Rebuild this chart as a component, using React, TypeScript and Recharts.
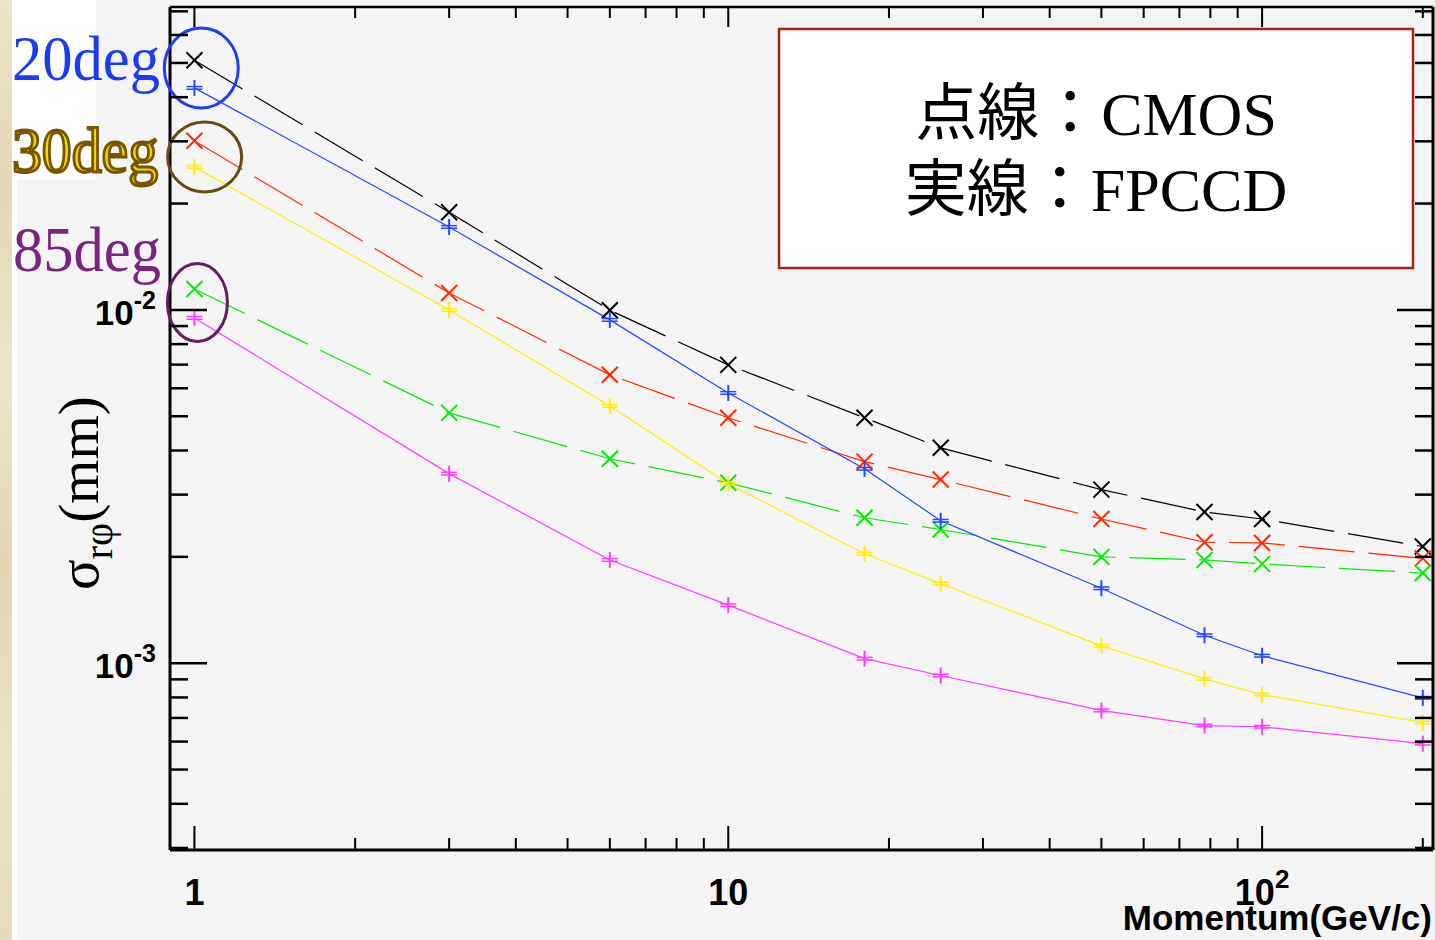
import React from 'react';
import { LineChart, Line, XAxis, YAxis, ReferenceDot } from 'recharts';

// ---- data ----
const momentum = [1, 3, 6, 10, 18, 25, 50, 78, 100, 200];
const cmos20 = [0.0509, 0.0189, 0.00998, 0.00699, 0.00495, 0.00407, 0.0031, 0.00268, 0.00256, 0.00214];
const fpccd20 = [0.0425, 0.01717, 0.00937, 0.00582, 0.00355, 0.00253, 0.00163, 0.0012, 0.00105, 0.000798];
const cmos30 = [0.0301, 0.01117, 0.00655, 0.00495, 0.00372, 0.00331, 0.00256, 0.0022, 0.00219, 0.00198];
const fpccd30 = [0.0254, 0.01, 0.00535, 0.00322, 0.00204, 0.00168, 0.00112, 0.000903, 0.000815, 0.000679];
const cmos85 = [0.01146, 0.00511, 0.00379, 0.00324, 0.00258, 0.00239, 0.002, 0.00196, 0.00191, 0.0018];
const fpccd85 = [0.00949, 0.00344, 0.00196, 0.00146, 0.00103, 0.000923, 0.000735, 0.000666, 0.000661, 0.000592];

const xTicks = [1, 2, 3, 4, 5, 6, 7, 8, 9, 10, 20, 30, 40, 50, 60, 70, 80, 90, 100, 200];
const yTicks = [
  0.0003, 0.0004, 0.0005, 0.0006, 0.0007, 0.0008, 0.0009, 0.001,
  0.002, 0.003, 0.004, 0.005, 0.006, 0.007, 0.008, 0.009, 0.01,
  0.02, 0.03, 0.04, 0.05, 0.06, 0.07,
];
const xDomain = [0.9, 209];
const yDomain = [0.000296, 0.072];

const legendLines = ['点線：CMOS', '実線：FPCCD'];
const angleLabels = ['20deg', '30deg', '85deg'];

type SeriesDef = { key: string; values: number[]; color: string; dashed: boolean; marker: 'x' | 'plus' };
const series: SeriesDef[] = [
  { key: 'cmos20', values: cmos20, color: '#000000', dashed: true, marker: 'x' },
  { key: 'cmos30', values: cmos30, color: '#ff2a00', dashed: true, marker: 'x' },
  { key: 'cmos85', values: cmos85, color: '#00ee00', dashed: true, marker: 'x' },
  { key: 'fpccd20', values: fpccd20, color: '#2448ff', dashed: false, marker: 'plus' },
  { key: 'fpccd30', values: fpccd30, color: '#ffee00', dashed: false, marker: 'plus' },
  { key: 'fpccd85', values: fpccd85, color: '#ff3cff', dashed: false, marker: 'plus' },
];

const data = momentum.map((m, i) => {
  const row: Record<string, number> = { momentum: m };
  series.forEach((s) => (row[s.key] = s.values[i]));
  return row;
});

// annotation ellipses (data coordinates)
const ellipses = [
  { x: 1.03, y: 0.0484, rx: 37, ry: 40, color: '#1a40f0' },
  { x: 1.045, y: 0.0271, rx: 37, ry: 35, color: '#6b4a10' },
  { x: 1.013, y: 0.0105, rx: 30, ry: 39, color: '#6a1a6a' },
];

const isMajor = (v: number) => Math.abs(Math.log10(v) - Math.round(Math.log10(v))) < 1e-6;
const SANS = 'Liberation Sans, Arial, Helvetica, sans-serif';
const SERIF = 'Liberation Serif, Times New Roman, serif';

const BottomTick = (props: any) => {
  const { x, y, payload } = props;
  const v = payload.value;
  const major = isMajor(v);
  return (
    <g>
      <line x1={x} y1={y} x2={x} y2={y - (major ? 24 : 12)} stroke="#000" strokeWidth={2} />
      {major && (
        <text x={x} y={y + 55} textAnchor="middle" fontFamily={SANS} fontWeight="bold" fontSize={36} fill="#000">
          {v >= 100 ? (
            <>
              <tspan>10</tspan>
              <tspan dy={-17} fontSize={26}>{String(Math.round(Math.log10(v)))}</tspan>
            </>
          ) : (
            String(v)
          )}
        </text>
      )}
    </g>
  );
};

const TopTick = (props: any) => {
  const { x, y, payload } = props;
  const major = isMajor(payload.value);
  return <line x1={x} y1={y} x2={x} y2={y + (major ? 20 : 11)} stroke="#000" strokeWidth={2} />;
};

const LeftTick = (props: any) => {
  const { x, y, payload } = props;
  const v = payload.value;
  const major = isMajor(v);
  return (
    <g>
      <line x1={x} y1={y} x2={x + (major ? 37 : 18)} y2={y} stroke="#000" strokeWidth={2.5} />
      {major && (
        <text x={x - 14} y={y + 15} textAnchor="end" fontFamily={SANS} fontWeight="bold" fontSize={35} fill="#000">
          <tspan>10</tspan>
          <tspan dy={-16} fontSize={25}>{String(Math.round(Math.log10(v)))}</tspan>
        </text>
      )}
    </g>
  );
};

const RightTick = (props: any) => {
  const { x, y, payload } = props;
  const major = isMajor(payload.value);
  return <line x1={x} y1={y} x2={x - (major ? 36 : 18)} y2={y} stroke="#000" strokeWidth={2.5} />;
};

const makeDot = (color: string, marker: 'x' | 'plus') => (props: any) => {
  const { cx, cy, index } = props;
  if (cx == null || cy == null) return <g key={index} />;
  const s = 8;
  if (marker === 'x') {
    return (
      <g key={index}>
        <line x1={cx - s} y1={cy - s} x2={cx + s} y2={cy + s} stroke={color} strokeWidth={2} />
        <line x1={cx - s} y1={cy + s} x2={cx + s} y2={cy - s} stroke={color} strokeWidth={2} />
      </g>
    );
  }
  return (
    <g key={index}>
      <line x1={cx} y1={cy - s} x2={cx} y2={cy + s} stroke={color} strokeWidth={2} />
      <line x1={cx - s} y1={cy - 1.3} x2={cx + s} y2={cy - 1.3} stroke={color} strokeWidth={1.5} />
      <line x1={cx - s} y1={cy + 1.3} x2={cx + s} y2={cy + 1.3} stroke={color} strokeWidth={1.5} />
    </g>
  );
};

export default function App() {
  return (
    <div style={{ position: 'absolute', left: 0, top: 0, width: 1435, height: 940, overflow: 'hidden', background: '#f4f4f4' }}>
      {/* slide background pieces */}
      <div
        style={{
          position: 'absolute', left: 0, top: 0, width: 12, height: 940,
          background: 'linear-gradient(180deg, #ece4c8 0%, #e3d8b6 20%, #ede5cb 40%, #e2d6b3 60%, #ebe2c5 80%, #e6dcbc 100%)',
        }}
      />
      <div style={{ position: 'absolute', left: 12, top: 0, width: 5, height: 940, background: '#ffffff' }} />
      <div style={{ position: 'absolute', left: 12, top: 0, width: 84, height: 180, background: '#ffffff' }} />

      <div style={{ position: 'absolute', left: 0, top: 0 }}>
        <LineChart width={1435} height={940} data={data} margin={{ top: 6, right: 1, bottom: 89, left: 169 }}>
          <XAxis
            xAxisId="b" dataKey="momentum" type="number" scale="log" domain={xDomain} allowDataOverflow
            ticks={xTicks} interval={0} tickSize={0} tickMargin={0} tickLine={false} height={1}
            axisLine={{ stroke: '#000', strokeWidth: 3 }} tick={BottomTick}
          />
          <XAxis
            xAxisId="t" orientation="top" dataKey="momentum" type="number" scale="log" domain={xDomain} allowDataOverflow
            ticks={xTicks} interval={0} tickSize={0} tickMargin={0} tickLine={false} height={1}
            axisLine={{ stroke: '#000', strokeWidth: 2.5 }} tick={TopTick}
          />
          <YAxis
            yAxisId="l" type="number" scale="log" domain={yDomain} allowDataOverflow
            ticks={yTicks} interval={0} tickSize={0} tickMargin={0} tickLine={false} width={1}
            axisLine={{ stroke: '#000', strokeWidth: 3 }} tick={LeftTick}
          />
          <YAxis
            yAxisId="r" orientation="right" type="number" scale="log" domain={yDomain} allowDataOverflow
            ticks={yTicks} interval={0} tickSize={0} tickMargin={0} tickLine={false} width={1}
            axisLine={{ stroke: '#000', strokeWidth: 3 }} tick={RightTick}
          />
          {series.map((s) => (
            <Line
              key={s.key}
              xAxisId="b"
              yAxisId="l"
              type="linear"
              dataKey={s.key}
              stroke={s.color}
              strokeWidth={1.2}
              strokeDasharray={s.dashed ? '56 14' : undefined}
              dot={makeDot(s.color, s.marker)}
              activeDot={false}
              isAnimationActive={false}
            />
          ))}
          {ellipses.map((e, i) => (
            <ReferenceDot
              key={'e' + i}
              xAxisId="b"
              yAxisId="l"
              x={e.x}
              y={e.y}
              r={1}
              ifOverflow="visible"
              shape={(p: any) => (
                <ellipse cx={p.cx} cy={p.cy} rx={e.rx} ry={e.ry} fill="none" stroke={e.color} strokeWidth={3} />
              )}
            />
          ))}
        </LineChart>
      </div>

      <svg width={1435} height={940} style={{ position: 'absolute', left: 0, top: 0, pointerEvents: 'none' }}>
        {/* angle labels */}
        <text x={12} y={80} fontFamily={SERIF} fontSize={64} fill="#1a3cf5" textLength={148} lengthAdjust="spacingAndGlyphs">
          {angleLabels[0]}
        </text>
        <text x={12} y={172} fontFamily={SERIF} fontSize={64} fill="#f2dc00" stroke="#7a5500" strokeWidth={3}
          textLength={146} lengthAdjust="spacingAndGlyphs">
          {angleLabels[1]}
        </text>
        <text x={13} y={271} fontFamily={SERIF} fontSize={64} fill="#7b2382" textLength={148} lengthAdjust="spacingAndGlyphs">
          {angleLabels[2]}
        </text>

        {/* y axis title */}
        <text transform="translate(98,590) rotate(-90)" fontFamily={SERIF} fontSize={57} fill="#000">
          <tspan>σ</tspan>
          <tspan dy={14} fontSize={40}>rφ</tspan>
          <tspan dy={-14}>(mm)</tspan>
        </text>

        {/* x axis title */}
        <text x={1432} y={930} textAnchor="end" fontFamily={SANS} fontWeight="bold" fontSize={35} fill="#000">
          Momentum(GeV/c)
        </text>

        {/* legend box */}
        <rect x={779} y={29} width={634} height={239} fill="#ffffff" stroke="#b01e10" strokeWidth={2.5} />
        <text x={1096} y={135} textAnchor="middle" fontFamily={`${SERIF}, Noto Sans CJK JP`} fontSize={62} fill="#000">
          {legendLines[0]}
        </text>
        <text x={1096} y={211} textAnchor="middle" fontFamily={`${SERIF}, Noto Sans CJK JP`} fontSize={62} fill="#000">
          {legendLines[1]}
        </text>
      </svg>
    </div>
  );
}
